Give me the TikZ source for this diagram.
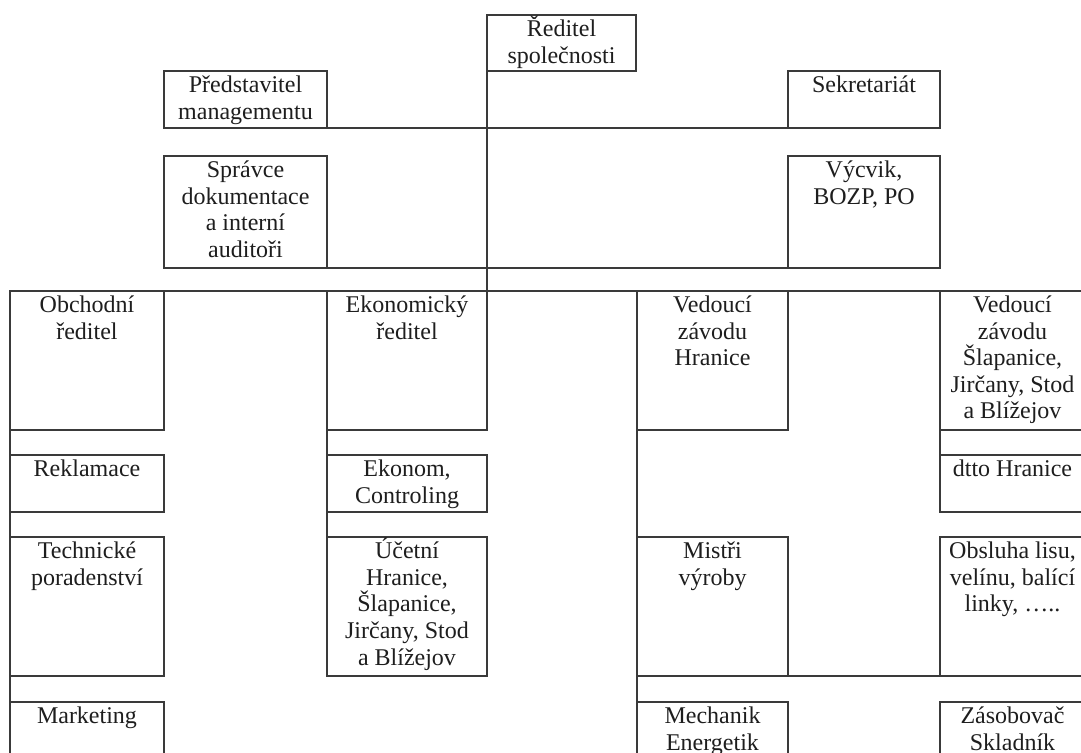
\documentclass[tikz,border=0pt]{standalone}
\usepackage{fontspec}
\setmainfont{Liberation Serif}
\definecolor{linec}{HTML}{3A3A3A}
\definecolor{txtc}{HTML}{1E1E1E}
\tikzset{
  orgbox/.style={draw=linec, line width=0.6pt, inner sep=0pt, outer sep=0pt,
    anchor=north west, text height=10.8pt, text=txtc},
  conn/.style={draw=linec, line width=0.6pt}
}
% name, x1, y1, x2, y2, text   (coordinates in reference pixels)
\newcommand\obox[6]{%
  \pgfmathsetmacro\obW{(#4-#2)/2}%
  \pgfmathsetmacro\obH{(#5-#3)/2}%
  \pgfmathsetmacro\obD{\obH-10.8}%
  \node[orgbox, minimum width=\obW pt, minimum height=\obH pt, text depth=\obD pt] (#1) at (#2,#3)
    {\begin{minipage}[t]{\obW pt}\centering\fontsize{12pt}{13.3pt}\selectfont #6\end{minipage}};}
\begin{document}
\begin{tikzpicture}[x=0.5pt, y=-0.5pt]
\useasboundingbox (0,0) rectangle (1081,753);
\clip (0,0) rectangle (1081,753);
\fill[white] (0,0) rectangle (1081,753);

% top level
\obox{red}{487}{15}{636}{71}{Ředitel\\společnosti}
\obox{pred}{164}{71}{327}{128}{Představitel\\managementu}
\obox{sekr}{788}{71}{940}{128}{Sekretariát}
\obox{spr}{164}{156}{327}{268}{Správce\\dokumentace\\a interní\\auditoři}
\obox{vyc}{788}{156}{940}{268}{Výcvik,\\BOZP, PO}

% row 1
\obox{obch}{10}{291}{164}{430}{Obchodní\\ředitel}
\obox{ekon}{327}{291}{487}{430}{Ekonomický\\ředitel}
\obox{vedH}{637}{291}{788}{430}{Vedoucí\\závodu\\Hranice}
\obox{vedS}{940}{291}{1085}{430}{Vedoucí\\závodu\\Šlapanice,\\Jirčany, Stod\\a Blížejov}

% row 2
\obox{rekl}{10}{455}{164}{512}{Reklamace}
\obox{ekonom}{327}{455}{487}{512}{Ekonom,\\Controling}
\obox{dtto}{940}{455}{1085}{512}{dtto Hranice}

% row 3
\obox{tech}{10}{537}{164}{676}{Technické\\poradenství}
\obox{ucet}{327}{537}{487}{676}{Účetní\\Hranice,\\Šlapanice,\\Jirčany, Stod\\a Blížejov}
\obox{mistri}{637}{537}{788}{676}{Mistři\\výroby}
\obox{obsl}{940}{537}{1085}{676}{Obsluha lisu,\\velínu, balící\\linky, …..}

% row 4
\obox{mark}{10}{702}{164}{790}{Marketing}
\obox{mech}{637}{702}{788}{790}{Mechanik\\Energetik}
\obox{zas}{940}{702}{1085}{790}{Zásobovač\\Skladník}

% connectors
\draw[conn] (red.south west) -- (ekon.north east);
\draw[conn] (pred.south east) -- (sekr.south west);
\draw[conn] (spr.south east) -- (vyc.south west);
\draw[conn] (obch.north east) -- (vedS.north west);

\draw[conn] (obch.south west) -- (rekl.north west);
\draw[conn] (rekl.south west) -- (tech.north west);
\draw[conn] (tech.south west) -- (mark.north west);

\draw[conn] (ekon.south west) -- (ekonom.north west);
\draw[conn] (ekonom.south west) -- (ucet.north west);

\draw[conn] (vedH.south west) -- (mistri.north west);
\draw[conn] (mistri.south west) -- (mech.north west);
\draw[conn] (mistri.south east) -- (obsl.south west);

\draw[conn] (vedS.south west) -- (dtto.north west);
\end{tikzpicture}
\end{document}
